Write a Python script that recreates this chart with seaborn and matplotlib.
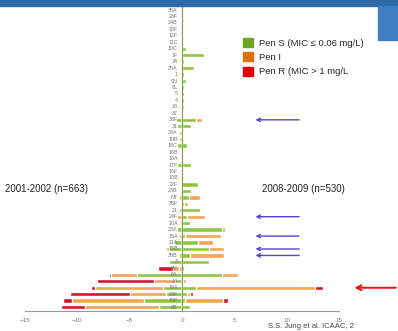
import matplotlib
matplotlib.use('Agg')
import matplotlib.pyplot as plt
import seaborn as sns
from matplotlib.patches import Patch, Rectangle

# serotypes, top to bottom
serotypes = ['35A', '28F', '24B', '18F', '12F', '11C', '10C', '7F', '34', '25A', '1', '9N',
             '9L', '5', '4', '38', '37', '33F', '31', '28A', '19B', '18C', '16B', '18A',
             '17F', '16F', '10B', '22F', '23B', 'NT', '35F', '21', '24F', '10A', '23A',
             '15A', '11A', '15B', '35B', '3', '9V', '6A', '14', '19A', '23F', '19F', '6B']

# 2001-2002 (left side), % of isolates
old_s = [0, 0, 0, 0, 0, 0, 0, 0, 0, 0, 0, 0,
         0, 0, 0, 0, 0, 0.6, 0.5, 0, 0, 0.5, 0, 0,
         0.5, 0, 0, 0, 0, 0, 0, 0.3, 0, 0.2, 0.5,
         0, 0.8, 1.2, 0.3, 1.2, 0.3, 4.3, 0.7, 1.8, 1.5, 3.6, 2.2]
old_i = [0, 0, 0, 0, 0, 0, 0, 0, 0, 0, 0, 0,
         0, 0, 0, 0, 0, 0, 0, 0.3, 0.3, 0, 0, 0,
         0, 0, 0, 0, 0, 0.3, 0, 0, 0.5, 0, 0,
         0.3, 0, 0.3, 0, 0, 0.6, 2.5, 2.0, 6.5, 3.5, 6.9, 7.1]
old_r = [0, 0, 0, 0, 0, 0, 0, 0, 0, 0, 0, 0,
         0, 0, 0, 0, 0, 0, 0, 0, 0, 0, 0, 0,
         0, 0, 0, 0, 0, 0, 0, 0, 0, 0, 0,
         0, 0, 0, 0, 0, 1.4, 0.2, 5.4, 0.4, 5.7, 0.9, 2.3]

# 2008-2009 (right side)
new_s = [0.1, 0.1, 0.1, 0.1, 0.1, 0.1, 0.35, 2.1, 0.15, 1.1, 0.2, 0.35,
         0.15, 0.15, 0.15, 0.15, 0.1, 1.3, 0.9, 0, 0, 0.5, 0.1, 0.1,
         0.9, 0.1, 0.1, 1.5, 0.9, 0.7, 0.2, 1.7, 0.5, 0.8, 3.8,
         0.3, 1.5, 2.6, 0.8, 2.6, 0, 3.8, 0.1, 1.3, 0.5, 0.3, 0.8]
new_i = [0, 0, 0, 0, 0, 0, 0, 0, 0, 0, 0, 0,
         0, 0, 0, 0, 0, 0.6, 0, 0, 0, 0, 0, 0,
         0, 0, 0, 0, 0, 1.0, 0.4, 0, 1.7, 0, 0.3,
         3.4, 1.5, 1.4, 3.2, 0, 0, 1.5, 0.3, 11.4, 0.3, 3.6, 0]
new_r = [0, 0, 0, 0, 0, 0, 0, 0, 0, 0, 0, 0,
         0, 0, 0, 0, 0, 0, 0, 0, 0, 0, 0, 0,
         0, 0, 0, 0, 0, 0, 0, 0, 0, 0, 0,
         0, 0, 0, 0, 0, 0.2, 0, 0, 0.8, 0.2, 0.5, 0]

blue_rows = ['33F', '24F', '15A', '15B', '35B']
red_row = '19A'

GREEN, ORANGE, RED = '#8fc641', '#f4a452', '#d5142a'

sns.set_style('white')
plt.rcParams['font.family'] = ['Liberation Sans', 'DejaVu Sans']

fig = plt.figure(figsize=(3.98, 3.31), dpi=100)
ax = fig.add_axes([0, 20 / 331, 1, 311 / 331])

# cumulative stacks, outermost first so inner layers sit on top
left_r = [-(s + i + r) for s, i, r in zip(old_s, old_i, old_r)]
left_i = [-(s + i) for s, i in zip(old_s, old_i)]
left_s = [-s for s in old_s]
right_r = [s + i + r for s, i, r in zip(new_s, new_i, new_r)]
right_i = [s + i for s, i in zip(new_s, new_i)]

for vals, col in [(left_r, RED), (left_i, ORANGE), (left_s, GREEN),
                  (right_r, RED), (right_i, ORANGE), (new_s, GREEN)]:
    sns.barplot(x=vals, y=serotypes, orient='h', color=col, width=0.68,
                saturation=1, errorbar=None, ax=ax)

ax.axvline(0, color='#7e9c3c', lw=0.8, zorder=3)

for k, name in enumerate(serotypes):
    ax.text(-0.4, k, name, ha='right', va='center', fontsize=3.9, color='#777777',
            zorder=4)

ax.set_xlim(-17.39, 20.63)
ax.set_ylim(46.6, -1.55)
ax.set_yticks([])
ax.set_ylabel('')
ax.set_xticks([-15, -10, -5, 0, 5, 10, 15])
ax.tick_params(axis='x', labelsize=4.5, colors='#777777', length=2, width=0.6, pad=3)
for side in ['top', 'right', 'left']:
    ax.spines[side].set_visible(False)
ax.spines['bottom'].set_bounds(-15, 15)
ax.spines['bottom'].set_color('#999999')
ax.spines['bottom'].set_linewidth(0.8)

# arrows
for name in blue_rows:
    k = serotypes.index(name)
    ax.annotate('', xy=(6.75, k), xytext=(11.45, k),
                arrowprops=dict(arrowstyle='->', color='#5a3fd2', lw=1.0,
                                mutation_scale=6))
k = serotypes.index(red_row)
ax.annotate('', xy=(16.2, k), xytext=(20.7, k),
            arrowprops=dict(arrowstyle='->', color='#ee1111', lw=1.4,
                            mutation_scale=9), annotation_clip=False)

handles = [Patch(color='#6fa520', label='Pen S (MIC \u2264 0.06 mg/L)'),
           Patch(color='#e3700c', label='Pen I'),
           Patch(color='#e00000', label='Pen R (MIC > 1 mg/L')]
fig.legend(handles=handles, loc='upper left', bbox_to_anchor=(239 / 398, 1 - 34 / 331),
           frameon=False, fontsize=6.8, handlelength=1.1, handleheight=1.1,
           handletextpad=0.6, labelspacing=0.5, borderaxespad=0)

fig.text(5 / 398, 1 - 189 / 331, '2001-2002 (n=663)', fontsize=7, va='center',
         color='#222222')
fig.text(262 / 398, 1 - 189 / 331, '2008-2009 (n=530)', fontsize=7, va='center',
         color='#222222')
fig.text(268 / 398, 1 / 331, 'S.S. Jung et al. ICAAC, 2', fontsize=5.5, va='bottom',
         color='#444444')

# slide header decoration
fig.patches.append(Rectangle((0, 1 - 6 / 331), 1, 6 / 331, transform=fig.transFigure,
                             color='#2f6aa8', zorder=0))
fig.patches.append(Rectangle((378 / 398, 1 - 40 / 331), 20 / 398, 34 / 331,
                             transform=fig.transFigure, color='#3d7fc1', zorder=0))

fig.savefig('out.png', dpi=100, facecolor='white')
